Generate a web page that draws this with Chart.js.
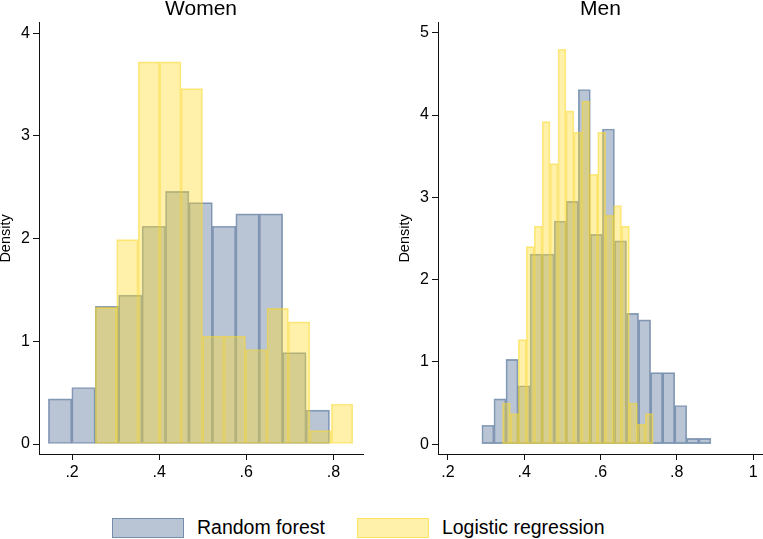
<!DOCTYPE html>
<html>
<head>
<meta charset="utf-8">
<script src="https://cdn.jsdelivr.net/npm/chart.js@4.4.1/dist/chart.umd.min.js"></script>
<style>
    body { margin: 0; background: #fff; font-family: "Liberation Sans", Arial, sans-serif; }
    #wrap { position: relative; width: 763px; height: 539px; overflow: hidden; }
    #womenChart { position: absolute; left: 0; top: 0; }
    #menChart { position: absolute; left: 399px; top: 0; }
    #legend { position: absolute; left: 112px; top: 516px; display: flex; align-items: center; font-size: 19.5px; color: #000; }
    .swatch { width: 70px; height: 18px; border: 1px solid; }
    .item { display: flex; align-items: center; }
    .item span { margin-left: 13px; }
</style>
</head>
<body>
<div id="wrap">
    <canvas id="womenChart" width="380" height="490"></canvas>
    <canvas id="menChart" width="364" height="490"></canvas>
    <div id="legend">
        <div class="item"><div class="swatch" style="background: rgba(80,110,150,0.4); border-color: rgba(80,110,150,0.65);"></div><span>Random forest</span></div>
        <div class="item" style="margin-left: 32px;"><div class="swatch" style="background: rgba(255,220,40,0.4); border-color: rgba(250,215,40,0.55);"></div><span>Logistic regression</span></div>
    </div>
</div>
<script>
// bin centres and densities
const womenForestBins = [0.1724, 0.2262, 0.2800, 0.3338, 0.3876, 0.4414, 0.4952, 0.5490, 0.6028, 0.6566, 0.7104, 0.7642];
const womenForest = [0.44, 0.55, 1.34, 1.45, 2.12, 2.46, 2.35, 2.12, 2.24, 2.24, 0.89, 0.33];
const womenLogitBins = [0.2777, 0.3270, 0.3763, 0.4256, 0.4749, 0.5242, 0.5735, 0.6228, 0.6721, 0.7214, 0.7707, 0.8200];
const womenLogit = [1.33, 1.99, 3.72, 3.72, 3.46, 1.05, 1.05, 0.92, 1.32, 1.19, 0.13, 0.39];

const menForestBins = [0.3048, 0.3364, 0.3680, 0.3996, 0.4312, 0.4628, 0.4944, 0.5260, 0.5576, 0.5892, 0.6208, 0.6524, 0.6840, 0.7156, 0.7472, 0.7788, 0.8104, 0.8420, 0.8736];
const menForest = [0.23, 0.55, 1.03, 0.71, 2.31, 2.31, 2.71, 2.95, 4.31, 2.55, 3.83, 2.47, 1.59, 1.51, 0.87, 0.87, 0.47, 0.07, 0.07];
const menLogitBins = [0.3534, 0.3742, 0.3950, 0.4158, 0.4366, 0.4574, 0.4782, 0.4990, 0.5198, 0.5406, 0.5614, 0.5822, 0.6030, 0.6238, 0.6446, 0.6654, 0.6862, 0.7070, 0.7278];
const menLogit = [0.50, 0.37, 1.27, 2.40, 2.65, 3.92, 3.41, 4.80, 4.05, 3.79, 4.17, 3.28, 3.79, 2.78, 2.90, 2.65, 0.50, 0.24, 0.37];

const womenXTicks = [0.2, 0.4, 0.6, 0.8];
const womenXLabels = [".2", ".4", ".6", ".8"];
const womenYTicks = [0, 1, 2, 3, 4];
const menXTicks = [0.2, 0.4, 0.6, 0.8, 1];
const menXLabels = [".2", ".4", ".6", ".8", "1"];
const menYTicks = [0, 1, 2, 3, 4, 5];

const FONT = "'Liberation Sans', Arial, sans-serif";

function histChart(id, title, forestBins, forest, logitBins, logit, xRange, yRange, xTicks, xLabels, yTicks, padRight) {
    const setTicks = list => scale => { scale.ticks = list.map(v => ({ value: v })); };
    const axisLine = { display: true, color: "#111", width: 1 };
    const tickGrid = { display: true, drawOnChartArea: false, drawTicks: true, tickLength: 6, color: "#111", offset: false };

    return new Chart(document.getElementById(id), {
        type: "bar",
        data: {
            datasets: [{
                label: "Random forest",
                data: forestBins.map((b, i) => ({ x: b, y: forest[i] })),
                xAxisID: "x",
                backgroundColor: "rgba(80,110,150,0.4)",
                borderColor: "rgba(80,110,150,0.65)",
                borderWidth: 1,
                borderSkipped: false,
                barPercentage: 1,
                categoryPercentage: 1,
                grouped: false,
                order: 2
            }, {
                label: "Logistic regression",
                data: logitBins.map((b, i) => ({ x: b, y: logit[i] })),
                xAxisID: "x2",
                backgroundColor: "rgba(255,220,40,0.4)",
                borderColor: "rgba(250,215,40,0.55)",
                borderWidth: 1,
                borderSkipped: false,
                barPercentage: 1,
                categoryPercentage: 1,
                grouped: false,
                order: 1
            }]
        },
        options: {
            responsive: false,
            animation: false,
            devicePixelRatio: 1,
            layout: { padding: { left: 0, right: padRight, top: 0, bottom: 0 } },
            plugins: {
                legend: { display: false },
                tooltip: { enabled: false },
                title: {
                    display: true,
                    text: title,
                    fullSize: false,
                    color: "#000",
                    font: { family: FONT, size: 21, weight: "normal", lineHeight: 0.9 },
                    padding: { top: 0, bottom: 4 }
                }
            },
            scales: {
                x: {
                    type: "linear",
                    offset: false,
                    min: xRange[0],
                    max: xRange[1],
                    afterBuildTicks: setTicks(xTicks),
                    afterFit: scale => { scale.height = 36; },
                    border: axisLine,
                    grid: tickGrid,
                    ticks: {
                        color: "#000",
                        padding: 3,
                        maxRotation: 0,
                        font: { family: FONT, size: 16 },
                        callback: v => xLabels[xTicks.indexOf(v)]
                    }
                },
                x2: {
                    type: "linear",
                    display: false,
                    offset: false,
                    min: xRange[0],
                    max: xRange[1],
                    afterBuildTicks: setTicks(xTicks)
                },
                y: {
                    type: "linear",
                    min: yRange[0],
                    max: yRange[1],
                    afterBuildTicks: setTicks(yTicks),
                    afterFit: scale => { scale.width = 39; },
                    border: axisLine,
                    grid: tickGrid,
                    title: {
                        display: true,
                        text: "Density",
                        color: "#000",
                        font: { family: FONT, size: 14.5, lineHeight: 0.8 },
                        padding: 0
                    },
                    ticks: {
                        color: "#000",
                        padding: 3,
                        font: { family: FONT, size: 16 },
                        callback: v => String(v)
                    }
                }
            }
        }
    });
}

histChart("womenChart", "Women", womenForestBins, womenForest, womenLogitBins, womenLogit,
    [0.124, 0.868], [-0.097, 4.10], womenXTicks, womenXLabels, womenYTicks, 17);
histChart("menChart", "Men", menForestBins, menForest, menLogitBins, menLogit,
    [0.174, 1.026], [-0.12, 5.12], menXTicks, menXLabels, menYTicks, 0);
</script>
</body>
</html>
